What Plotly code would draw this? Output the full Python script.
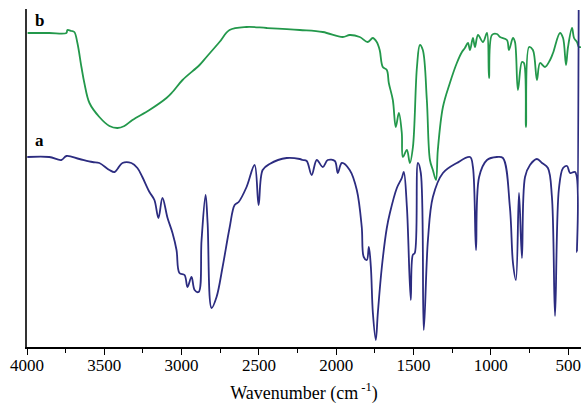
import plotly.graph_objects as go

# spectrum b (green), wavenumber in cm-1 and transmittance (arbitrary units)
wn_b = [3996, 3856, 3745, 3739, 3713, 3694, 3674, 3648, 3629, 3596, 3532, 3467, 3415, 3370,
        3318, 3208, 3098, 3059, 2994, 2884, 2839, 2755, 2690, 2580, 2450, 2236, 2087, 1958,
        1913, 1848, 1796, 1764, 1738, 1719, 1699, 1673, 1660, 1634, 1615, 1595, 1576, 1569,
        1543, 1524, 1504, 1478, 1459, 1440, 1414, 1394, 1375, 1355, 1343, 1310, 1265, 1220,
        1187, 1168, 1148, 1135, 1116, 1103, 1083, 1051, 1025, 1012, 993, 961, 941, 896, 883,
        857, 844, 825, 799, 786, 773, 753, 728, 702, 682, 650, 617, 598, 553, 533, 514, 501,
        475, 462, 443, 430, 417]
t_b = [314, 314, 314, 317, 316, 315, 304, 280, 264, 244, 230, 221, 219, 221,
       227, 237, 249, 255, 267, 282, 290, 305, 317, 320, 319, 317, 315, 310,
       312, 310, 305, 309, 305, 297, 280, 277, 264, 247, 220, 234, 214, 190,
       197, 184, 200, 280, 302, 297, 247, 187, 177, 167, 197, 240, 264, 284,
       295, 299, 304, 297, 309, 300, 312, 305, 314, 269, 312, 313, 310, 307, 297,
       309, 305, 257, 285, 284, 220, 300, 297, 267, 284, 280, 287, 294, 314, 309, 282, 300,
       319, 309, 305, 300, 300]

# spectrum a (blue)
wn_a = [3998, 3856, 3778, 3745, 3661, 3577, 3532, 3467, 3434, 3415, 3383, 3325, 3286, 3254,
        3208, 3176, 3150, 3124, 3091, 3059, 3033, 3014, 2981, 2962, 2936, 2916, 2890, 2871,
        2845, 2832, 2806, 2774, 2735, 2690, 2657, 2631, 2580, 2528, 2502, 2476, 2431, 2321,
        2236, 2217, 2191, 2159, 2126, 2087, 2055, 2009, 1990, 1964, 1913, 1867, 1835, 1822,
        1802, 1789, 1776, 1763, 1744, 1731, 1705, 1673, 1653, 1608, 1576, 1563, 1543, 1518,
        1505, 1492, 1472, 1453, 1434, 1407, 1375, 1310, 1220, 1135, 1116, 1096, 1076, 1025,
        961, 922, 877, 857, 838, 818, 799, 779, 747, 702, 669, 631, 605, 585, 560, 533, 507,
        488, 455, 443, 432]
t_a = [190, 190, 187, 191, 188, 185, 184, 177, 175, 178, 184, 184, 179, 170,
       155, 147, 129, 149, 129, 114, 97, 74, 72, 60, 70, 57, 55, 107,
       152, 124, 39, 50, 80, 119, 142, 145, 160, 182, 142, 177, 183, 189,
       188, 187, 186, 172, 187, 180, 187, 186, 174, 184, 177, 157, 120, 90,
       87, 100, 80, 34, 7, 34, 80, 119, 134, 159, 169, 175, 140, 47,
       92, 94, 184, 174, 17, 107, 150, 174, 184, 190, 180, 97, 170, 187,
       190, 189, 140, 84, 67, 154, 89, 170, 182, 188, 184, 179, 150, 31, 158, 179, 181,
       174, 175, 95, 337]

fig = go.Figure()
fig.add_trace(go.Scatter(x=wn_b, y=t_b, mode='lines', line=dict(color='#23984b', width=1.8),
                         line_shape='spline', showlegend=False))
fig.add_trace(go.Scatter(x=wn_a, y=t_a, mode='lines', line=dict(color='#2c2c80', width=1.8),
                         line_shape='spline', showlegend=False))

serif = 'Times New Roman'
fig.add_annotation(x=3920, y=327, text='<b>b</b>', showarrow=False,
                   font=dict(family=serif, size=17, color='black'))
fig.add_annotation(x=3920, y=207, text='<b>a</b>', showarrow=False,
                   font=dict(family=serif, size=17, color='black'))

fig.update_layout(
    width=581, height=404,
    margin=dict(l=27, r=0, t=9, b=57),
    paper_bgcolor='white', plot_bgcolor='white',
    font=dict(family=serif, size=17, color='black'),
    xaxis=dict(
        range=[4000, 417], automargin=False,
        showgrid=False, zeroline=False,
        showline=True, linecolor='black', linewidth=1.5,
        tickmode='linear', tick0=500, dtick=500,
        ticks='outside', ticklen=6, tickwidth=1.2, tickcolor='black',
        minor=dict(dtick=250, tick0=250, ticks='outside', ticklen=4, tickwidth=1.2, tickcolor='black'),
        tickfont=dict(family=serif, size=17), ticklabelstandoff=-4,
        title=dict(text='Wavenumber (cm<sup> -1</sup>)', standoff=14,
                   font=dict(family=serif, size=18)),
    ),
    yaxis=dict(
        range=[0, 338], automargin=False,
        showgrid=False, zeroline=False,
        showline=True, linecolor='#333333', linewidth=1.5,
        showticklabels=False, ticks='',
    ),
)

# drop the default page margin so the figure sits at the window's corner
fig.write_html("out.html", config={'displayModeBar': False},
               post_script="document.body.style.margin='0';document.body.style.overflow='hidden';")
